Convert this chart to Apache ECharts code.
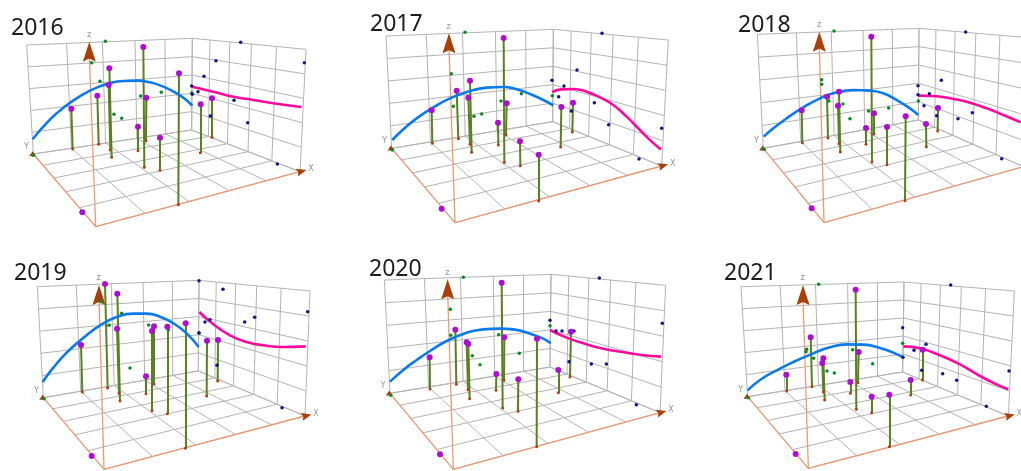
<!DOCTYPE html>
<html>
<head>
<meta charset="utf-8">
<title>Trend analysis 2016-2021</title>
<script src="https://cdn.jsdelivr.net/npm/echarts@6/dist/echarts.min.js"></script>
<style>
  html, body { margin: 0; padding: 0; background: #fff; }
  #main { width: 1021px; height: 471px; filter: blur(0.45px); }
</style>
</head>
<body>
<div id="main"></div>
<script>
const years = ['2016', '2017', '2018', '2019', '2020', '2021'];

// box corners: top-left, top-centre, top-right, bottom-left, bottom-centre, bottom-right, front, z tip
const frame2016 = [[80,135],[577,115],[918,148],[100,462],[575,390],[900,515],[287,680],[268,125]];
const frame2017 = [[138,108],[640,88],[985,120],[155,445],[638,365],[965,498],[345,668],[327,100]];
const frame2018 = [[232,103],[717,85],[1045,113],[250,445],[715,360],[1030,500],[432,668],[418,95]];
const frame2019 = [[112,152],[597,133],[930,165],[130,485],[595,405],[915,540],[312,700],[297,147]];
const frame2020 = [[133,132],[633,115],[977,148],[150,472],[630,393],[960,530],[340,700],[323,130]];
const frame2021 = [[183,152],[672,138],[1003,165],[203,482],[668,408],[985,540],[385,697],[369,147]];

// sticks: top x, top y, base x, base y
const sticks2016 = [[214,326,218,447],[292,287,296,433],[328,205,335,472],[326,255,331,450],[430,141,433,502],[439,293,438,422],[414,380,414,452],[480,413,480,511],[537,220,535,614],[602,313,601,458],[636,295,636,412]];
const sticks2017 = [[275,331,277,430],[350,272,355,416],[390,242,395,457],[385,293,390,433],[491,114,493,487],[500,310,498,404],[474,368,475,435],[540,424,541,497],[596,464,596,603],[664,321,662,441],[699,308,697,396]];
const sticks2018 = [[365,331,367,428],[441,290,444,414],[477,275,481,456],[474,317,477,431],[574,110,576,486],[582,340,582,402],[558,384,558,433],[621,381,621,494],[677,349,675,602],[738,372,739,440],[774,324,773,393]];
const sticks2019 = [[243,327,247,468],[315,144,323,456],[352,173,360,495],[351,278,357,472],[462,271,462,444],[456,285,456,524],[502,272,502,533],[557,262,556,637],[438,421,438,473],[621,314,620,480],[654,312,653,435]];
const sticks2020 = [[269,364,270,459],[346,281,349,445],[380,319,384,461],[385,324,389,488],[485,140,488,516],[493,304,492,433],[469,414,468,463],[535,430,534,526],[591,308,590,632],[655,402,655,470],[693,287,690,423]];
const sticks2021 = [[319,416,320,465],[392,304,396,452],[430,367,434,492],[427,381,430,468],[527,161,529,520],[536,348,534,440],[511,438,511,472],[575,482,575,530],[628,476,628,632],[692,432,692,477],[728,341,727,432]];

// the point on the y edge that has no stick
const lonePoints = [[247,637],[305,626],[395,625],[275,660],[300,655],[347,654]];

// blue trend on the left wall
const blue2016 = [[98,418],[130,380],[170,340],[215,305],[270,272],[320,252],[370,243],[410,242],[450,247],[490,260],[530,280],[555,297],[577,317]];
const blue2017 = [[157,420],[190,388],[230,355],[275,325],[330,295],[390,273],[440,263],[490,261],[530,268],[570,282],[610,300],[640,316]];
const blue2018 = [[251,410],[280,385],[320,355],[365,325],[420,295],[470,277],[520,270],[570,272],[610,280],[650,300],[690,325],[715,345]];
const blue2019 = [[128,438],[160,395],[200,350],[245,310],[300,268],[350,243],[400,233],[440,233],[480,242],[520,262],[560,292],[596,333]];
const blue2020 = [[150,437],[190,402],[230,372],[270,345],[320,315],[380,290],[430,280],[480,278],[520,280],[570,293],[610,308],[632,322]];
const blue2021 = [[203,463],[240,432],[290,403],[340,378],[400,352],[450,334],[500,325],[550,326],[600,336],[640,350],[670,365]];

// pink trend on the right wall
const pink2016 = [[577,260],[640,275],[700,290],[760,300],[830,311],[905,321]];
const pink2017 = [[637,276],[665,268],[700,267],[740,275],[780,292],[820,315],[860,350],[900,390],[935,425],[963,448]];
const pink2018 = [[715,287],[760,288],[810,295],[860,305],[920,325],[970,345],[1022,367]];
const pink2019 = [[598,228],[640,265],[690,298],[740,318],[790,328],[850,333],[917,331]];
const pink2020 = [[630,282],[680,305],[730,322],[790,338],[860,350],[910,358],[963,362]];
const pink2021 = [[670,331],[720,337],[780,358],[840,385],[900,420],[950,445],[985,460]];

// projected points on the left wall
const green2016 = [[316,124],[275,188],[300,244],[342,343],[365,355],[422,288],[484,277],[575,279],[100,466]];
const green2017 = [[375,97],[334,221],[340,319],[402,349],[425,342],[483,303],[544,281],[637,287],[157,450]];
const green2018 = [[462,93],[425,239],[425,253],[447,303],[489,312],[510,356],[566,333],[626,324],[715,303],[252,448]];
const green2019 = [[303,197],[365,232],[327,268],[446,267],[505,282],[597,292],[390,396],[132,488]];
const green2020 = [[370,124],[331,220],[332,298],[476,296],[397,359],[420,386],[538,352],[630,269],[152,478]];
const green2021 = [[416,145],[380,340],[378,347],[401,367],[518,341],[441,405],[463,411],[578,383],[668,322],[205,485]];

// projected points on the right wall
const navy2016 = [[722,127],[648,182],[913,188],[612,229],[575,258],[594,275],[577,283],[702,301],[631,348],[743,368],[832,492]];
const navy2017 = [[786,100],[711,210],[636,241],[672,258],[656,290],[763,308],[694,333],[806,374],[965,385],[897,477]];
const navy2018 = [[857,96],[784,241],[714,257],[748,281],[714,284],[732,317],[877,338],[770,347],[834,356],[965,476]];
const navy2019 = [[597,134],[669,160],[923,227],[764,244],[734,258],[630,251],[615,258],[597,290],[651,388],[846,515]];
const navy2020 = [[778,126],[630,253],[967,262],[648,285],[666,285],[702,285],[695,287],[687,377],[754,384],[799,384],[889,506]];
const navy2021 = [[812,147],[668,275],[738,325],[702,343],[725,403],[788,413],[830,433],[987,405],[669,364],[919,511]];

// cell divisions of the box, foreshortened towards the back corner
const colSteps = [0, 0.241, 0.457, 0.654, 0.835, 1];
const rowSteps = [0, 0.155, 0.33, 0.52, 0.74, 1];
const zSteps = [0, 0.2, 0.4, 0.6, 0.8, 1];

const titleSpots = [[11,17],[30,13],[58,14],[14,26],[29,22],[44,26]];

const frames = [frame2016, frame2017, frame2018, frame2019, frame2020, frame2021];
const sticks = [sticks2016, sticks2017, sticks2018, sticks2019, sticks2020, sticks2021];
const blues = [blue2016, blue2017, blue2018, blue2019, blue2020, blue2021];
const pinks = [pink2016, pink2017, pink2018, pink2019, pink2020, pink2021];
const greens = [green2016, green2017, green2018, green2019, green2020, green2021];
const navies = [navy2016, navy2017, navy2018, navy2019, navy2020, navy2021];

function mix(a, b, t) {
  return [a[0] + (b[0] - a[0]) * t, a[1] + (b[1] - a[1]) * t];
}

// grey mesh of one panel: two walls and the floor
function meshLines(f) {
  const [tl, tc, tr, bl, bc, br, front] = f;
  const out = [];
  const add = (a, b) => out.push({ coords: [a, b] });
  zSteps.forEach(t => {
    add(mix(tl, bl, t), mix(tc, bc, t));
    add(mix(tc, bc, t), mix(tr, br, t));
  });
  colSteps.forEach(t => {
    add(mix(tl, tc, t), mix(bl, bc, t));
    add(mix(bl, bc, t), mix(front, br, t));
  });
  rowSteps.forEach(t => {
    add(mix(tc, tr, t), mix(bc, br, t));
    add(mix(bc, br, t), mix(bl, front, t));
  });
  return out;
}

const grid = [], xAxis = [], yAxis = [], series = [], title = [];

years.forEach((year, i) => {
  const left = (i % 3) * 340;
  const top = i < 3 ? 0 : 236;
  const f = frames[i];
  const w = i % 3 === 2 ? 341 : 340;
  grid.push({ left: left, top: top, width: w, height: 235 });
  xAxis.push({ type: 'value', gridIndex: i, min: 0, max: w * 3, show: false });
  yAxis.push({ type: 'value', gridIndex: i, min: 0, max: 705, inverse: true, show: false });
  const on = { xAxisIndex: i, yAxisIndex: i };

  title.push({
    text: year,
    left: left + titleSpots[i][0],
    top: top + titleSpots[i][1],
    padding: 0,
    textStyle: { fontFamily: 'Noto Sans', fontSize: 23, fontWeight: 'normal', color: '#1c1c1c' }
  });

  series.push({
    type: 'lines', coordinateSystem: 'cartesian2d', ...on, z: 1,
    data: meshLines(f),
    lineStyle: { color: '#b4b4b4', width: 1, opacity: 1 }
  });

  // orange axes
  const front = f[6], bl = f[3], br = f[5], tip = f[7];
  series.push({
    type: 'lines', coordinateSystem: 'cartesian2d', ...on, z: 2,
    data: [{ coords: [front, bl] }, { coords: [front, br] }, { coords: [front, [tip[0], tip[1] + 40]] }],
    lineStyle: { color: '#e89c78', width: 1.3, opacity: 1 }
  });
  const xAngle = Math.atan2(front[1] - br[1], br[0] - front[0]) * 180 / Math.PI - 90;
  series.push({
    type: 'scatter', ...on, z: 3, silent: true,
    symbol: 'path://M5 0 L10 16 L5 13.5 L0 16 Z',
    symbolSize: [13, 20],
    data: [[tip[0], tip[1] + 30]],
    itemStyle: { color: '#a8400a', opacity: 1 }
  });
  series.push({
    type: 'scatter', ...on, z: 3, silent: true,
    symbol: 'path://M5 0 L10 16 L5 13.5 L0 16 Z',
    symbolSize: [8, 10], symbolRotate: xAngle,
    data: [[br[0] + 5, br[1] - 1]],
    itemStyle: { color: '#a8400a', opacity: 1 }
  });
  series.push({
    type: 'scatter', ...on, z: 3, silent: true,
    symbol: 'triangle', symbolSize: [7, 5],
    data: [[bl[0] - 2, bl[1] - 1]],
    itemStyle: { color: '#a8400a', opacity: 1 }
  });
  // axis letters
  series.push({
    type: 'scatter', ...on, z: 3, silent: true, symbolSize: 0,
    data: [
      { value: [tip[0] - 1, tip[1] - 20], label: { formatter: 'z' } },
      { value: [bl[0] - 21, bl[1] - 21], label: { formatter: 'Y' } },
      { value: [br[0] + 33, br[1] - 7], label: { formatter: 'X' } }
    ],
    label: { show: true, position: 'inside', fontFamily: 'DejaVu Sans', fontSize: 8, color: '#777' }
  });

  // olive sticks with a small foot and a purple head
  series.push({
    type: 'lines', coordinateSystem: 'cartesian2d', ...on, z: 4,
    data: sticks[i].map(s => ({ coords: [[s[2], s[3]], [s[0], s[1]]] })),
    lineStyle: { color: '#5c7f22', width: 2, opacity: 1 }
  });
  series.push({
    type: 'scatter', ...on, z: 5, symbolSize: 3,
    data: sticks[i].map(s => [s[2], s[3]]),
    itemStyle: { color: '#a5471c', opacity: 1 }
  });

  series.push({ type: 'line', ...on, z: 6, data: blues[i], smooth: true, showSymbol: false, lineStyle: { color: '#0a7ae8', width: 2.6 } });
  series.push({ type: 'line', ...on, z: 6, data: pinks[i], smooth: true, showSymbol: false, lineStyle: { color: '#ff0a9c', width: 2.6 } });

  series.push({ type: 'scatter', ...on, z: 7, symbolSize: 3.5, data: greens[i], itemStyle: { color: '#0a8a28', opacity: 1 } });
  series.push({ type: 'scatter', ...on, z: 7, symbolSize: 3.5, data: navies[i], itemStyle: { color: '#16167f', opacity: 1 } });
  series.push({
    type: 'scatter', ...on, z: 8, symbolSize: 6,
    data: sticks[i].map(s => [s[0], s[1]]).concat([lonePoints[i]]),
    itemStyle: { color: '#ad0fd0', opacity: 1 }
  });
});

const chart = echarts.init(document.getElementById('main'));
chart.setOption({
  animation: false,
  backgroundColor: '#fff',
  title: title,
  grid: grid,
  xAxis: xAxis,
  yAxis: yAxis,
  series: series
});
</script>
</body>
</html>
